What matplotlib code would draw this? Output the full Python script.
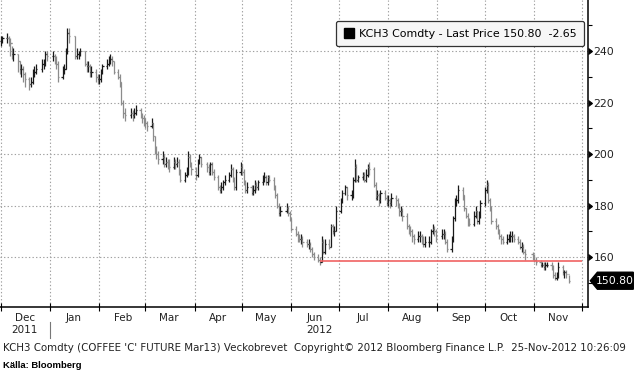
import numpy as np
import pandas as pd
import matplotlib
matplotlib.use("Agg")
import matplotlib.pyplot as plt
import matplotlib.dates as mdates
import matplotlib.transforms as mtransforms
from matplotlib.lines import Line2D
from matplotlib.markers import CARETRIGHTBASE
from matplotlib.patches import Polygon
from matplotlib.ticker import MultipleLocator, NullFormatter

# ICE coffee trading days, Dec 2011 - Nov 2012
holidays = ["2011-12-26", "2012-01-02", "2012-01-16", "2012-02-20", "2012-04-06",
            "2012-05-28", "2012-07-04", "2012-09-03", "2012-10-29", "2012-10-30",
            "2012-11-22"]

# daily closes (one row per month)
closes = [
    244, 245, 245, 244, 243, 239, 239, 236, 233, 233, 231, 229, 227, 228, 232, 232, 233, 235, 235, 239, 238,
    238, 237, 235, 230, 233, 233, 240, 247, 246, 238, 239, 239, 240, 235, 234, 234, 232, 232, 230, 229,
    229, 232, 234, 235, 236, 237, 236, 232, 230, 228, 220, 216, 215, 216, 215, 216, 217, 215, 214, 213,
    212, 211, 212, 207, 202, 200, 198, 199, 196, 197, 196, 195, 197, 196, 197, 193, 190, 192, 193, 199, 196, 194,
    192, 197, 199, 196, 195, 193, 196, 193, 191, 187, 186, 187, 189, 190, 192, 194, 190, 187, 193, 195,
    193, 189, 186, 187, 185, 186, 188, 187, 189, 190, 191, 189, 191, 190, 187, 184, 180, 177, 178, 179, 177, 175,
    171, 169, 168, 167, 167, 166, 165, 165, 163, 161, 160, 159, 158, 166, 162, 165, 164, 172, 170, 170, 178,
    182, 185, 187, 184, 184, 190, 195, 190, 191, 192, 190, 192, 195, 194, 188, 183, 184, 182, 185, 183, 181,
    182, 181, 183, 182, 180, 178, 178, 176, 172, 171, 170, 168, 167, 168, 168, 167, 165, 166, 166, 170, 171, 170, 168,
    169, 169, 166, 163, 167, 175, 181, 182, 186, 184, 179, 176, 174, 173, 176, 178, 174, 176, 181,
    186, 188, 182, 179, 174, 172, 170, 168, 167, 166, 167, 167, 168, 168, 167, 166, 164, 164, 162, 161, 160,
    159, 158, 157, 157, 156, 157, 157, 156, 153, 152, 153, 156, 154, 154, 153.45, 150.80,
]
highs = [
    246, 246, 247, 246, 245, 242, 241, 239, 236, 235, 234, 232, 230, 230, 233, 234, 235, 237, 237, 240, 240,
    240, 239, 238, 236, 234, 235, 241, 249, 249, 246, 241, 240, 241, 240, 236, 236, 235, 234, 233, 231,
    231, 233, 235, 237, 238, 239, 238, 236, 233, 231, 228, 221, 218, 218, 217, 218, 219, 218, 216, 215,
    214, 213, 214, 212, 207, 203, 201, 201, 200, 199, 198, 198, 199, 198, 199, 198, 194, 193, 195, 201, 200, 197,
    195, 198, 200, 199, 197, 196, 197, 197, 194, 192, 188, 189, 190, 192, 193, 196, 195, 191, 194, 197,
    196, 194, 190, 189, 188, 188, 190, 189, 190, 192, 193, 192, 192, 192, 191, 188, 185, 181, 180, 181, 180, 178,
    175, 172, 170, 169, 169, 168, 167, 167, 166, 164, 162, 161, 160, 168, 167, 167, 167, 173, 173, 172, 180,
    183, 186, 188, 187, 186, 191, 198, 196, 192, 193, 193, 194, 196, 197, 195, 189, 186, 185, 186, 186, 184,
    184, 183, 185, 184, 183, 181, 180, 179, 177, 173, 172, 171, 169, 170, 170, 169, 168, 168, 168, 171, 173, 172, 171,
    171, 171, 170, 167, 168, 176, 183, 184, 188, 187, 184, 179, 177, 175, 178, 180, 178, 178, 182,
    187, 190, 189, 183, 180, 175, 173, 171, 169, 168, 169, 169, 170, 170, 169, 168, 167, 166, 165, 163, 162,
    161, 160, 159, 158, 158, 158, 158, 158, 157, 154, 154, 158, 157, 155, 155, 153,
]
lows = [
    242, 243, 243, 242, 238, 237, 236, 232, 231, 230, 228, 226, 225, 226, 227, 230, 231, 232, 233, 234, 236,
    236, 235, 233, 228, 229, 231, 233, 239, 243, 237, 237, 237, 238, 234, 232, 232, 230, 230, 228, 227,
    227, 228, 231, 233, 234, 235, 234, 231, 229, 226, 219, 214, 213, 214, 213, 214, 215, 214, 212, 211,
    210, 209, 210, 205, 200, 198, 196, 196, 195, 195, 194, 193, 194, 194, 195, 192, 189, 189, 191, 192, 195, 192,
    190, 191, 196, 195, 193, 192, 192, 192, 190, 186, 185, 185, 186, 188, 189, 191, 189, 186, 186, 192,
    192, 188, 185, 185, 184, 184, 185, 186, 186, 188, 189, 188, 188, 189, 186, 183, 179, 176, 176, 177, 176, 174,
    170, 168, 166, 166, 165, 164, 164, 163, 162, 160, 159, 158, 157, 158, 161, 161, 163, 164, 169, 168, 170,
    177, 181, 184, 182, 182, 183, 189, 189, 189, 190, 189, 189, 191, 192, 187, 182, 182, 180, 181, 182, 180,
    180, 179, 180, 180, 179, 176, 176, 174, 171, 169, 168, 166, 165, 166, 166, 165, 164, 164, 164, 165, 169, 168, 166,
    167, 167, 165, 162, 162, 166, 174, 180, 181, 182, 178, 175, 172, 172, 172, 175, 173, 173, 175,
    180, 185, 181, 178, 173, 171, 169, 167, 165, 165, 165, 166, 166, 166, 166, 165, 163, 162, 161, 159, 159,
    158, 157, 156, 156, 155, 155, 156, 155, 152, 151, 151, 152, 153, 152, 152, 150,
]

support_level = 158.4
support_start = "2012-06-19"
support_end = "2012-12-01"

dates = pd.bdate_range("2011-12-01", "2012-11-23")
dates = dates[~dates.isin(pd.to_datetime(holidays))]
assert len(dates) == len(closes) == len(highs) == len(lows)

x = mdates.date2num(dates.to_pydatetime())
c = np.array(closes, dtype=float)
prev = np.r_[c[0], c[:-1]]
cols = np.where(c >= prev, "#1a1a1a", "#8c8c8c")

fig = plt.figure(figsize=(6.35, 3.73), dpi=100)
ax = fig.add_axes([0, 66 / 373, 588 / 635, 307 / 373])

ax.vlines(x, lows, highs, colors=cols, lw=0.9)
ax.hlines(c, x, x + 0.8, colors=cols, lw=0.9)
ax.hlines(prev, x - 0.8, x, colors=cols, lw=0.9)

ax.hlines(support_level, mdates.datestr2num(support_start), mdates.datestr2num(support_end),
          color="#f06262", lw=1.2, zorder=3)

ax.set_xlim(mdates.datestr2num("2011-11-30 12:00"), mdates.datestr2num("2012-12-04 20:00"))
ax.set_ylim(140.6, 259.8)

for s in ("top", "left"):
    ax.spines[s].set_visible(False)
ax.spines["bottom"].set_linewidth(1.1)
ax.spines["right"].set_linewidth(1.1)

grid_kw = dict(color="#a0a0a0", linestyle=(0, (1.2, 2)), linewidth=0.8)

# x axis: month boundaries as ticks, labels mid-month
ax.xaxis.set_major_locator(mdates.MonthLocator())
ax.xaxis.set_major_formatter(NullFormatter())
ax.xaxis.set_minor_locator(mdates.MonthLocator(bymonthday=16))
ax.xaxis.set_minor_formatter(mdates.DateFormatter("%b"))
ax.tick_params(axis="x", which="major", direction="inout", length=6, width=0.8)
ax.tick_params(axis="x", which="minor", length=0, pad=4, labelsize=7.5, labelcolor="#222222")
ax.grid(True, axis="x", which="major", **grid_kw)

# y axis on the right
ax.yaxis.tick_right()
ax.yaxis.set_major_locator(MultipleLocator(20))
ax.yaxis.set_minor_locator(MultipleLocator(10))
ax.tick_params(axis="y", which="major", length=6, width=0.8, pad=-2, labelsize=7.8,
               labelcolor="#222222")
ax.tick_params(axis="y", which="minor", length=3, width=0.8)
for t in ax.yaxis.get_major_ticks():
    t.tick2line.set_marker(CARETRIGHTBASE)
    t.tick2line.set_markersize(4)
ax.grid(True, axis="y", which="major", **grid_kw)

# year labels under Dec and Jun
bt = mtransforms.blended_transform_factory(ax.transData, ax.transAxes)
ax.text(mdates.datestr2num("2011-12-16"), -0.075, "2011", transform=bt, ha="center",
        va="center", fontsize=7.5, color="#222222")
ax.text(mdates.datestr2num("2012-06-19"), -0.075, "2012", transform=bt, ha="center",
        va="center", fontsize=7.5, color="#222222")
jan1 = mdates.datestr2num("2012-01-01")
ax.plot([jan1, jan1], [-0.048, -0.1], transform=bt, color="#777777", lw=0.8, clip_on=False)

# last price tag
last = c[-1]
yt = mtransforms.blended_transform_factory(ax.transAxes, ax.transData)
h = 3.3
tag = Polygon([(1.004, last), (1.016, last + h), (1.077, last + h), (1.077, last - h),
               (1.016, last - h)], closed=True, transform=yt, facecolor="black",
              edgecolor="black", clip_on=False)
ax.add_patch(tag)
ax.text(1.046, last, f"{last:.2f}", transform=yt, ha="center", va="center",
        color="white", fontsize=7.8)

# legend box
label = f"KCH3 Comdty - Last Price {last:.2f}  {last - c[-2]:.2f}"
handle = Line2D([], [], marker="s", color="black", ls="none", markersize=7.5)
leg = ax.legend([handle], [label], loc="upper right", bbox_to_anchor=(584 / 588, 1 - 21 / 307),
                fontsize=7.9, frameon=True, fancybox=True, framealpha=1,
                borderpad=0.7, handletextpad=0.35, handlelength=1.0, borderaxespad=0)
leg.get_frame().set_edgecolor("#333333")
leg.get_frame().set_facecolor("#f6f6f6")
leg.get_frame().set_linewidth(0.9)

fig.text(3 / 635, 1 - 348 / 373,
         "KCH3 Comdty (COFFEE 'C' FUTURE Mar13) Veckobrevet  Copyright\u00a9 2012 "
         "Bloomberg Finance L.P.  25-Nov-2012 10:26:09",
         fontsize=7.4, va="center", ha="left", color="#222222")
fig.text(3 / 635, 1 - 366 / 373, "K\u00e4lla: Bloomberg", fontsize=6.8, fontweight="bold",
         va="center", ha="left", family=["Liberation Sans Narrow", "Liberation Sans", "DejaVu Sans"])

fig.savefig("out.png", dpi=100)
